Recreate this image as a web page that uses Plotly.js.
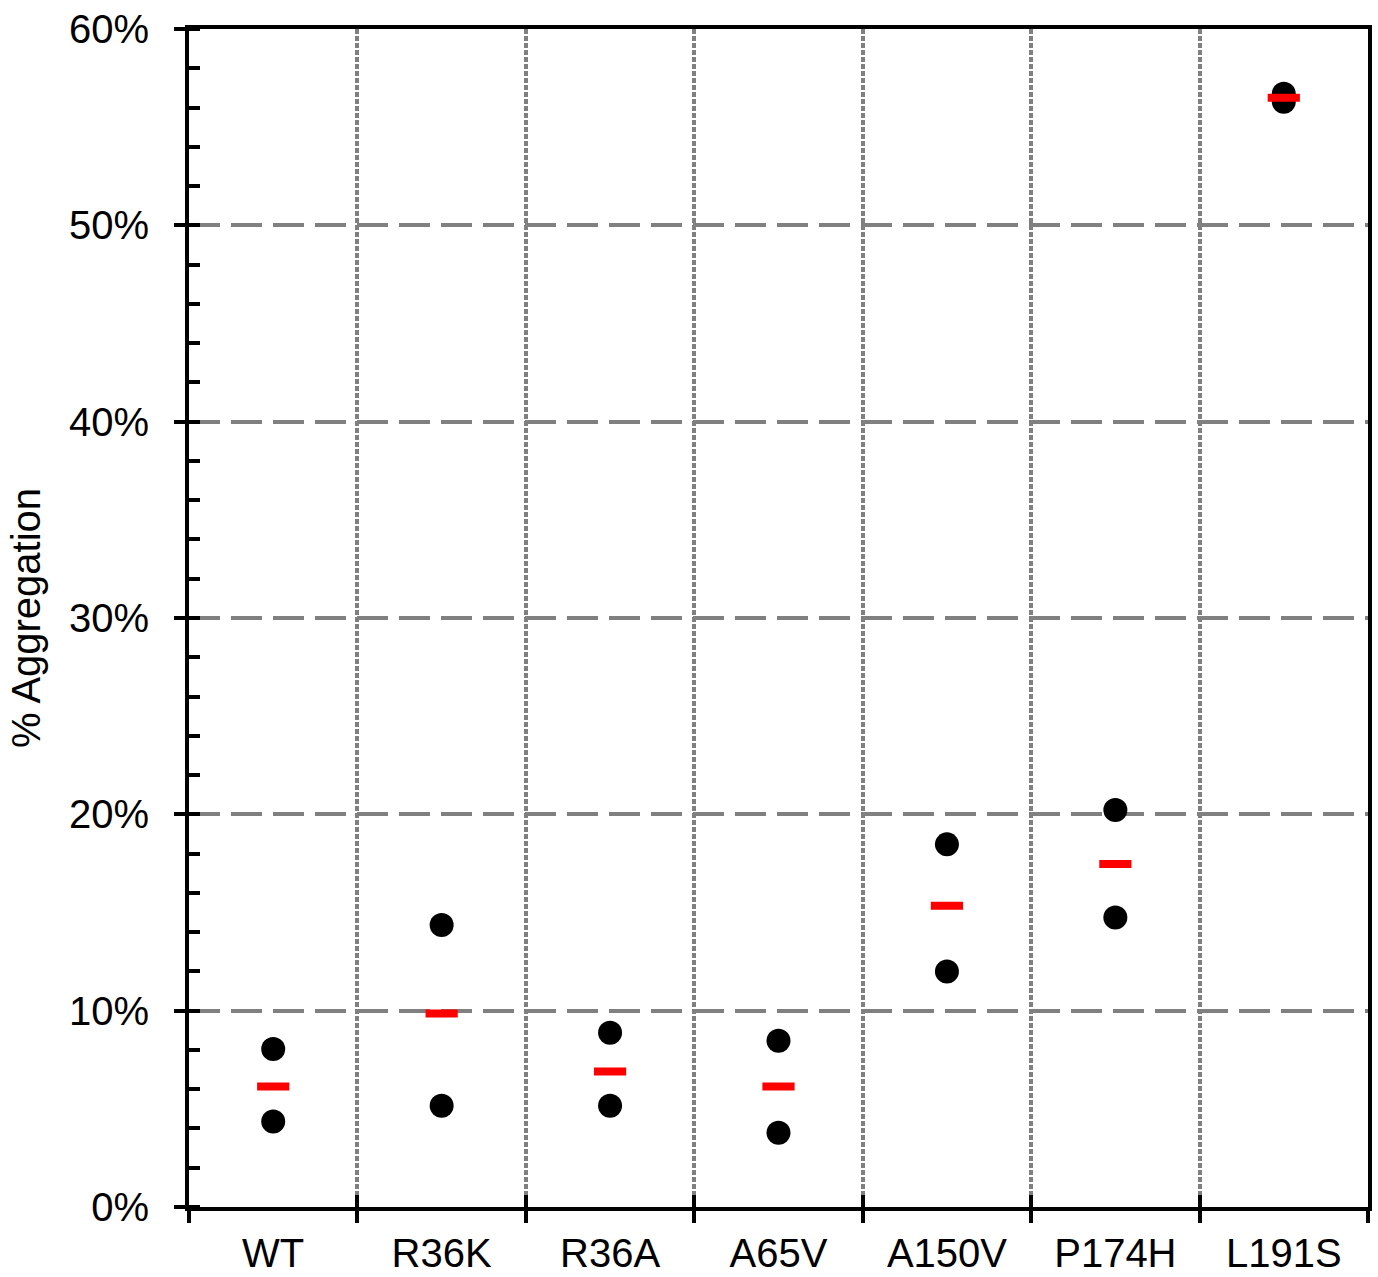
<!DOCTYPE html>
<html>
<head>
<meta charset="utf-8">
<script src="https://cdn.plot.ly/plotly-3.0.1.min.js"></script>
<style>html,body{margin:0;padding:0;background:#fff;}#chart{width:1378px;height:1277px;}</style>
</head>
<body>
<div id="chart"></div>
<script>
const categories = ['WT', 'R36K', 'R36A', 'A65V', 'A150V', 'P174H', 'L191S'];
const replicate1 = [8.05, 14.36, 8.87, 8.47, 18.47, 20.22, 56.70];
const replicate2 = [4.36, 5.16, 5.16, 3.78, 12.00, 14.74, 56.29];
const means = [6.14, 9.85, 6.90, 6.14, 15.35, 17.47, 56.50];
const yTicks = [0, 10, 20, 30, 40, 50, 60];
const yTickLabels = ['0%', '10%', '20%', '30%', '40%', '50%', '60%'];

const FONT = 'Liberation Sans, Arial, Helvetica, sans-serif';

const traces = [
  {
    type: 'scatter', mode: 'markers', xaxis: 'x', yaxis: 'y',
    x: categories.concat(categories),
    y: replicate1.concat(replicate2),
    marker: {color: '#000000', size: 24},
    hoverinfo: 'x+y', showlegend: false
  },
  {
    type: 'scatter', mode: 'markers', xaxis: 'x2', yaxis: 'y2',
    x: categories, y: means,
    marker: {symbol: 'line-ew', size: 23, color: '#ff0000', line: {color: '#ff0000', width: 8}},
    hoverinfo: 'x+y', showlegend: false
  }
];

const layout = {
  width: 1378, height: 1277,
  margin: {l: 189, r: 10, t: 29, b: 70},
  paper_bgcolor: '#ffffff', plot_bgcolor: '#ffffff',
  font: {family: FONT, size: 40, color: '#000000'},
  showlegend: false,
  xaxis: {
    type: 'category', categoryorder: 'array', categoryarray: categories,
    range: [-0.5, 6.5], fixedrange: true,
    tickson: 'boundaries',
    ticks: 'outside', ticklen: 12, tickwidth: 4, tickcolor: '#000000',
    ticklabelstandoff: 8,
    showgrid: true, gridcolor: '#808080', gridwidth: 4, griddash: '5px,2px',
    showline: true, linecolor: '#000000', linewidth: 4, mirror: true,
    zeroline: false,
    tickfont: {family: FONT, size: 40, color: '#000000'}
  },
  xaxis2: {
    type: 'category', categoryorder: 'array', categoryarray: categories,
    range: [-0.5, 6.5], fixedrange: true, overlaying: 'x', anchor: 'y', side: 'bottom',
    tickson: 'boundaries',
    ticks: 'inside', ticklen: 12, tickwidth: 4, tickcolor: '#000000',
    showticklabels: false, showgrid: false, showline: false, zeroline: false
  },
  yaxis: {
    range: [0, 60], fixedrange: true,
    tickmode: 'array', tickvals: yTicks, ticktext: yTickLabels,
    ticks: 'outside', ticklen: 11, tickwidth: 4, tickcolor: '#000000',
    ticklabelstandoff: 17,
    minor: {dtick: 2, tick0: 0, ticks: 'inside', ticklen: 11, tickwidth: 4, tickcolor: '#000000', showgrid: false},
    showgrid: true, gridcolor: '#808080', gridwidth: 4, griddash: '31px,11px',
    showline: true, linecolor: '#000000', linewidth: 4, mirror: true,
    zeroline: false,
    tickfont: {family: FONT, size: 40, color: '#000000'},
    title: {text: '% Aggregation', font: {family: FONT, size: 40, color: '#000000'}, standoff: 17}
  },
  yaxis2: {
    range: [0, 60], fixedrange: true, overlaying: 'y', anchor: 'x', side: 'left',
    tickmode: 'array', tickvals: yTicks,
    ticks: 'inside', ticklen: 11, tickwidth: 4, tickcolor: '#000000',
    showticklabels: false, showgrid: false, showline: false, zeroline: false
  }
};

Plotly.newPlot('chart', traces, layout, {displayModeBar: false, staticPlot: true});
</script>
</body>
</html>
